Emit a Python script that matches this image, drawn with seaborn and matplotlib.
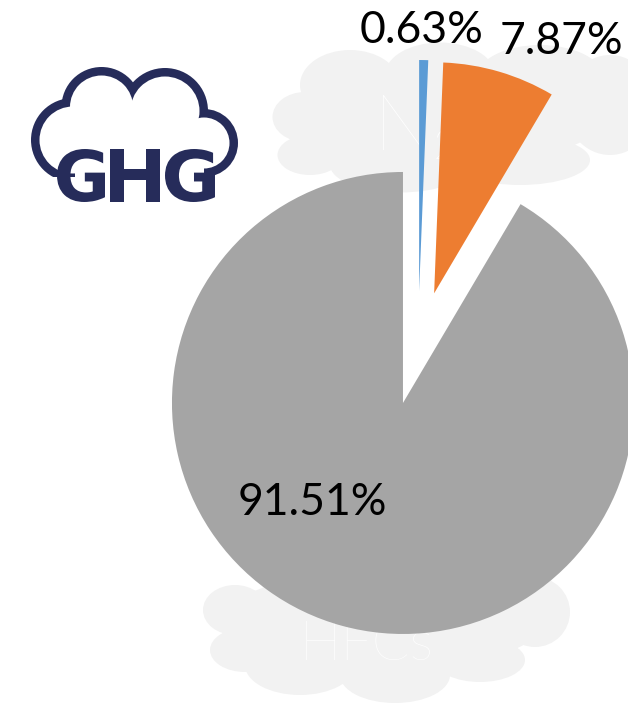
import matplotlib
matplotlib.use("Agg")
import matplotlib.pyplot as plt
import seaborn as sns
from matplotlib.patches import Ellipse, Circle, Rectangle, Polygon, PathPatch
from matplotlib.textpath import TextPath
from matplotlib.font_manager import FontProperties
from matplotlib.transforms import Affine2D

# Emission shares (%)
gases = ["N2O", "CH4", "CO2"]
shares = [0.63, 7.87, 91.51]
colors = ["#5b9bd5", "#ed7d31", "#a5a5a5"]

W, H = 628, 704
NAVY = "#262c5a"
CLOUD = "#f2f2f2"

sns.set_theme(style="white")
plt.rcParams["font.family"] = ["Lato", "DejaVu Sans"]

fig = plt.figure(figsize=(W / 100, H / 100), dpi=100)
ax = fig.add_axes([0, 0, 1, 1])


def Y(y):
    """Convert a top-down pixel row into the axes' bottom-up coordinate."""
    return H - y


# ---- faint background clouds -------------------------------------------
top_cloud = [
    (305, 117, 65, 50), (350, 85, 100, 70), (440, 75, 110, 65),
    (540, 80, 130, 70), (610, 105, 90, 100), (310, 155, 65, 40),
    (400, 165, 140, 55), (520, 160, 140, 50), (450, 120, 300, 90),
]
bottom_cloud = [
    (235, 610, 64, 50), (245, 650, 70, 44), (300, 665, 110, 60),
    (395, 675, 110, 56), (480, 660, 90, 44), (535, 612, 70, 70),
    (385, 620, 320, 100),
]
for cx, cy, w, h in top_cloud + bottom_cloud:
    ax.add_patch(Ellipse((cx, Y(cy)), w, h, color=CLOUD, lw=0, zorder=1))

ax.text(374, Y(150), "N\u2082", color="white", fontsize=56, fontweight="light",
        ha="left", va="baseline", zorder=2)
ax.text(300, Y(660), "HFCs", color="white", fontsize=40, fontweight="light",
        ha="left", va="baseline", zorder=2)

# ---- GHG logo --------------------------------------------------------------
lobes = [(73, 140, 42), (101.5, 107, 40), (165, 111, 43), (204, 143, 34)]
ring = 8.5
for cx, cy, r in lobes:
    ax.add_patch(Circle((cx, Y(cy)), r, color=NAVY, lw=0, zorder=3))
for cx, cy, r in lobes:
    ax.add_patch(Circle((cx, Y(cy)), r - ring, color="white", lw=0, zorder=4))
ax.add_patch(Polygon([(75, Y(140)), (101, Y(107)), (165, Y(111)),
                      (204, Y(143)), (204, Y(200)), (75, Y(200))],
                     closed=True, color="white", lw=0, zorder=4))
ax.add_patch(Rectangle((20, Y(215)), 230, 38, color="white", lw=0, zorder=4))

logo_font = FontProperties(family="DejaVu Sans", weight="bold")
letter_boxes = [("G", 57, 105), ("H", 110, 160), ("G", 165, 215)]
top, bottom = 149, 202
for ch, x0, x1 in letter_boxes:
    tp = TextPath((0, 0), ch, size=100, prop=logo_font)
    ext = tp.get_extents()
    sx = (x1 - x0) / ext.width
    sy = (bottom - top) / ext.height
    tr = (Affine2D().translate(-ext.x0, -ext.y0).scale(sx, sy)
          .translate(x0, Y(bottom)))
    ax.add_patch(PathPatch(tr.transform_path(tp), color=NAVY, lw=0, zorder=5))

# ---- exploded pie (explode offsets are in data units here) ------------------
ax.pie(shares, colors=colors, startangle=90, counterclock=False,
       center=(418, Y(348)), radius=231, explode=[57] * len(shares),
       wedgeprops=dict(linewidth=0, zorder=6), normalize=True)

label_pos = [(422, 43), (561, 54), (312, 515)]
for v, (lx, ly) in zip(shares, label_pos):
    ax.text(lx, Y(ly), f"{v:.2f}%", ha="center", va="baseline",
            fontsize=32, color="black", zorder=7)

ax.set_xlim(0, W)
ax.set_ylim(0, H)
ax.set_aspect("auto")
ax.axis("off")

fig.savefig("out.png", dpi=100, facecolor="white")
